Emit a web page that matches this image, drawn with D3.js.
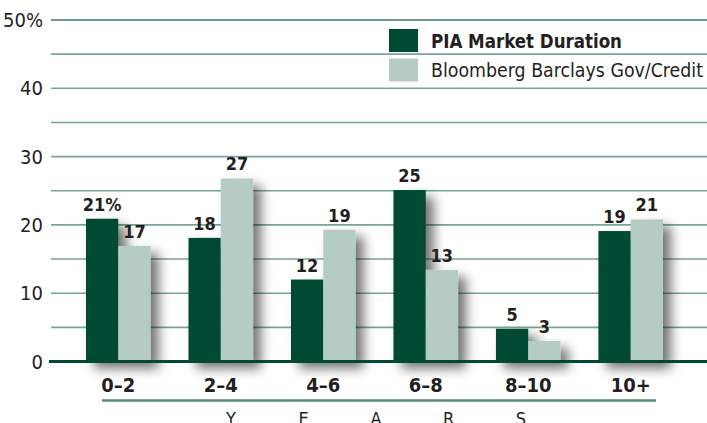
<!DOCTYPE html>
<html>
<head>
<meta charset="utf-8">
<script src="https://cdn.jsdelivr.net/npm/d3@7"></script>
<style>
  body { margin: 0; background: #fff; }
  svg { display: block; font-family: "DejaVu Sans Condensed", "Liberation Sans Narrow", sans-serif; }
</style>
</head>
<body>
<div id="chart"></div>
<script>
// data
const categories = ["0–2", "2–4", "4–6", "6–8", "8–10", "10+"];
const seriesNames = ["PIA Market Duration", "Bloomberg Barclays Gov/Credit"];
const piaValues = [20.9, 18.1, 12.0, 25.1, 4.8, 19.1];
const benchValues = [16.9, 26.8, 19.3, 13.4, 3.0, 20.8];
const yTicks = [0, 10, 20, 30, 40, 50];
const gridTicks = [5, 10, 15, 20, 25, 30, 35, 40, 45, 50];
const axisTitle = ["Y", "E", "A", "R", "S"];

const width = 707, height = 423;
const dark = "#004a33", light = "#b5ccc4";

const svg = d3.select("#chart").append("svg")
    .attr("width", width)
    .attr("height", height);

// soft shadow behind the bars
svg.append("defs").append("filter")
    .attr("id", "shadow")
    .attr("x", "-30%").attr("y", "-30%")
    .attr("width", "180%").attr("height", "180%")
    .append("feDropShadow")
    .attr("dx", 8)
    .attr("dy", 7)
    .attr("stdDeviation", 6)
    .attr("flood-color", "#000")
    .attr("flood-opacity", 0.55);

const y = d3.scaleLinear().domain([0, 50]).range([361.5, 20]);

const x = d3.scaleBand()
    .domain(categories)
    .range([86, 663])
    .paddingInner(0.37)
    .paddingOuter(0);

const xSub = d3.scaleBand()
    .domain(seriesNames)
    .range([0, x.bandwidth()]);

// gridlines
svg.append("g")
    .selectAll("line")
    .data(gridTicks)
    .join("line")
    .attr("x1", 51)
    .attr("x2", width)
    .attr("y1", d => y(d))
    .attr("y2", d => y(d))
    .attr("stroke", d => d === 50 ? "#3d7a60" : "#77a593")
    .attr("stroke-width", 1.6);

// y labels
svg.append("g")
    .selectAll("text")
    .data(yTicks)
    .join("text")
    .attr("x", 43)
    .attr("y", d => y(d) + 7)
    .attr("text-anchor", "end")
    .attr("font-size", 20)
    .attr("fill", "#231f20")
    .text(d => d === 50 ? "50%" : d);

const rows = categories.map((c, i) => ({
    cat: c,
    vals: [
        { s: seriesNames[0], v: piaValues[i], color: dark },
        { s: seriesNames[1], v: benchValues[i], color: light }
    ]
}));

// bars
const groups = svg.append("g")
    .selectAll("g")
    .data(rows)
    .join("g")
    .attr("transform", d => `translate(${x(d.cat)},0)`);

groups.append("g")
    .attr("filter", "url(#shadow)")
    .selectAll("rect")
    .data(d => d.vals)
    .join("rect")
    .attr("x", d => xSub(d.s))
    .attr("width", xSub.bandwidth())
    .attr("y", d => y(d.v))
    .attr("height", d => y(0) - y(d.v))
    .attr("fill", d => d.color);

// value labels
groups.selectAll("text")
    .data((d, i) => d.vals.map(v => ({ ...v, first: i === 0 })))
    .join("text")
    .attr("x", d => xSub(d.s) + xSub.bandwidth() / 2)
    .attr("y", d => y(d.v) - 8)
    .attr("text-anchor", "middle")
    .attr("font-size", 18)
    .attr("font-weight", "bold")
    .attr("fill", "#231f20")
    .text(d => Math.round(d.v) + (d.first && d.s === seriesNames[0] ? "%" : ""));

// baseline
svg.append("line")
    .attr("x1", 49)
    .attr("x2", width)
    .attr("y1", y(0))
    .attr("y2", y(0))
    .attr("stroke", dark)
    .attr("stroke-width", 3);

// category labels
svg.append("g")
    .selectAll("text")
    .data(categories)
    .join("text")
    .attr("x", d => x(d) + x.bandwidth() / 2)
    .attr("y", 392)
    .attr("text-anchor", "middle")
    .attr("font-size", 20)
    .attr("font-weight", "bold")
    .attr("fill", "#231f20")
    .text(d => d);

// rule under categories
svg.append("line")
    .attr("x1", 102)
    .attr("x2", 656)
    .attr("y1", 400.5)
    .attr("y2", 400.5)
    .attr("stroke", "#5a8a76")
    .attr("stroke-width", 2.5);

// spaced axis title, partly cut at the bottom edge like the source
const titleX = d3.scalePoint().domain(axisTitle).range([231, 521]);
svg.append("g")
    .selectAll("text")
    .data(axisTitle)
    .join("text")
    .attr("x", d => titleX(d))
    .attr("y", 425)
    .attr("text-anchor", "middle")
    .attr("font-size", 18)
    .attr("fill", "#231f20")
    .text(d => d);

// legend
const legend = svg.append("g");
const legendY = d3.scalePoint().domain(seriesNames).range([40.5, 70]);
const legendLen = [191, 272];
legend.selectAll("rect")
    .data(seriesNames)
    .join("rect")
    .attr("x", 389)
    .attr("y", d => legendY(d) - 11.5)
    .attr("width", 29)
    .attr("height", 23)
    .attr("fill", (d, i) => i === 0 ? dark : light);

legend.selectAll("text")
    .data(seriesNames)
    .join("text")
    .attr("x", 431)
    .attr("y", d => legendY(d) + 7)
    .attr("font-size", 20)
    .attr("font-weight", (d, i) => i === 0 ? "bold" : "normal")
    .attr("textLength", (d, i) => legendLen[i])
    .attr("lengthAdjust", "spacingAndGlyphs")
    .attr("fill", "#231f20")
    .text(d => d);
</script>
</body>
</html>
